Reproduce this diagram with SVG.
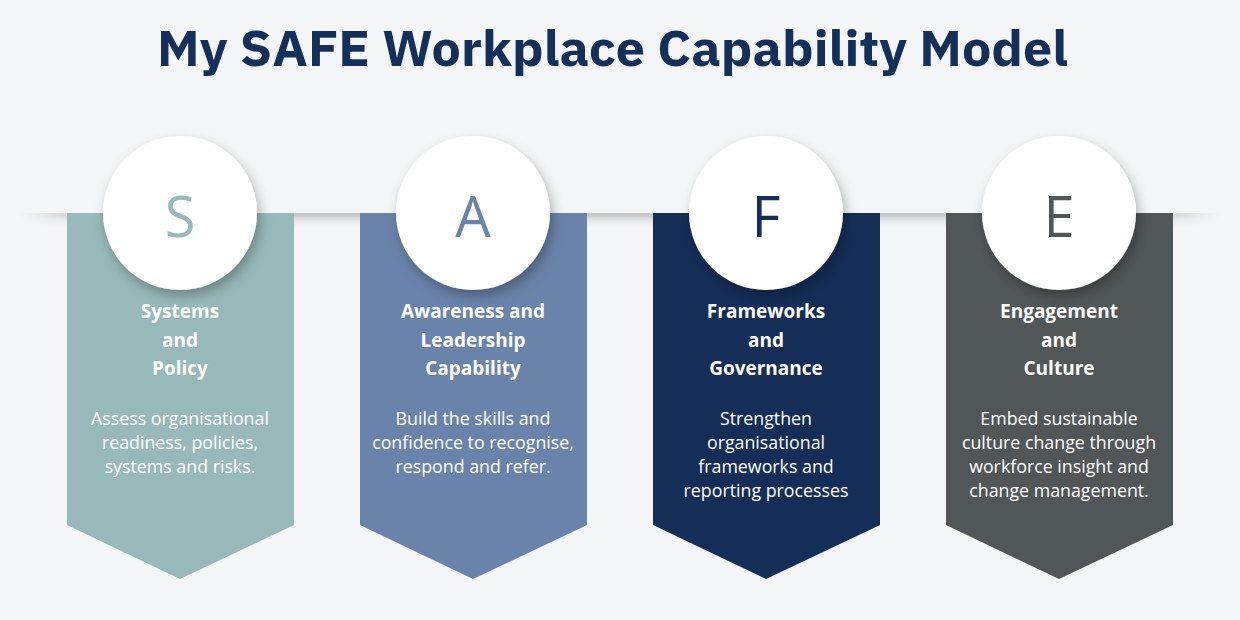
<svg xmlns="http://www.w3.org/2000/svg" width="1240" height="620" viewBox="0 0 1240 620">
<style>
.title{font-family:"IBM Plex Sans","Roboto","Liberation Sans",sans-serif;font-weight:700;font-size:50px;fill:#14305a}
.letter{font-family:"Open Sans","Noto Sans",sans-serif;font-weight:400;font-size:56px;text-anchor:middle}
.head{font-family:"Open Sans","Noto Sans",sans-serif;font-weight:700;font-size:19px;fill:#fff;text-anchor:middle}
.body{font-family:"Open Sans","Noto Sans",sans-serif;font-weight:400;font-size:17.8px;fill:#fff;text-anchor:middle}
.circle{fill:#fff;filter:url(#cs)}
</style>
<defs>
<filter id="cs" x="-30%" y="-30%" width="160%" height="160%">
<feDropShadow dx="3" dy="6" stdDeviation="6" flood-color="#000" flood-opacity="0.28"/>
</filter>
<filter id="blur" x="-10%" y="-200%" width="120%" height="500%">
<feGaussianBlur stdDeviation="6"/>
</filter>
<clipPath id="below"><rect x="0" y="213" width="1240" height="60"/></clipPath>
<linearGradient id="fadeH" x1="0" x2="1" y1="0" y2="0">
<stop offset="0" stop-color="#000" stop-opacity="0"/>
<stop offset="0.06" stop-color="#000" stop-opacity="1"/>
<stop offset="0.94" stop-color="#000" stop-opacity="1"/>
<stop offset="1" stop-color="#000" stop-opacity="0"/>
</linearGradient>
</defs>
<rect width="1240" height="620" fill="#f3f5f7"/>
<g clip-path="url(#below)">
<rect x="20" y="204" width="1200" height="12" fill="url(#fadeH)" opacity="0.32" filter="url(#blur)"/>
</g>
<text class="title" x="157" y="66" textLength="911" lengthAdjust="spacingAndGlyphs">My SAFE Workplace Capability Model</text>
<g id="connectors"></g>
<g id="node-s">
<polygon points="67,213 294,213 294,525 180,579 67,525" fill="#97b9b9"/>
<circle class="circle" cx="180" cy="213" r="77"/>
<text class="letter" x="180" y="237" fill="#97b9b9">S</text>
<text class="head" x="180" y="318">Systems</text>
<text class="head" x="180" y="347">and</text>
<text class="head" x="180" y="375">Policy</text>
<text class="body" x="180" y="425">Assess organisational</text>
<text class="body" x="180" y="449">readiness, policies,</text>
<text class="body" x="180" y="473">systems and risks.</text>
</g>
<g id="node-a">
<polygon points="360,213 587,213 587,525 473,579 360,525" fill="#6a83aa"/>
<circle class="circle" cx="473" cy="213" r="77"/>
<text class="letter" x="473" y="237" fill="#6a83aa">A</text>
<text class="head" x="473" y="318">Awareness and</text>
<text class="head" x="473" y="347">Leadership</text>
<text class="head" x="473" y="375">Capability</text>
<text class="body" x="473" y="425">Build the skills and</text>
<text class="body" x="473" y="449">confidence to recognise,</text>
<text class="body" x="473" y="473">respond and refer.</text>
</g>
<g id="node-f">
<polygon points="653,213 880,213 880,525 766,579 653,525" fill="#142e58"/>
<circle class="circle" cx="766" cy="213" r="77"/>
<text class="letter" x="766" y="237" fill="#142e58">F</text>
<text class="head" x="766" y="318">Frameworks</text>
<text class="head" x="766" y="347">and</text>
<text class="head" x="766" y="375">Governance</text>
<text class="body" x="766" y="425">Strengthen</text>
<text class="body" x="766" y="449">organisational</text>
<text class="body" x="766" y="473">frameworks and</text>
<text class="body" x="766" y="497">reporting processes</text>
</g>
<g id="node-e">
<polygon points="946,213 1173,213 1173,525 1059,579 946,525" fill="#515658"/>
<circle class="circle" cx="1059" cy="213" r="77"/>
<text class="letter" x="1059" y="237" fill="#515658">E</text>
<text class="head" x="1059" y="318">Engagement</text>
<text class="head" x="1059" y="347">and</text>
<text class="head" x="1059" y="375">Culture</text>
<text class="body" x="1059" y="425">Embed sustainable</text>
<text class="body" x="1059" y="449">culture change through</text>
<text class="body" x="1059" y="473">workforce insight and</text>
<text class="body" x="1059" y="497">change management.</text>
</g>
</svg>
